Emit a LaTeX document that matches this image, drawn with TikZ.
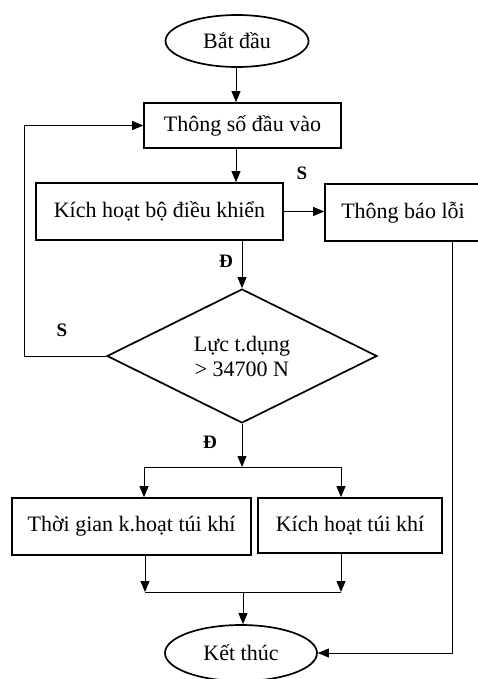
\documentclass[tikz,border=0pt]{standalone}
\usepackage{fontspec}
\setmainfont{Liberation Serif}
\usetikzlibrary{shapes.geometric,arrows.meta}

\tikzset{
  khoi/.style={draw, line width=1.7pt, rectangle, inner sep=0pt, font=\fontsize{22}{25}\selectfont},
  batdau/.style={draw, line width=1.7pt, ellipse, inner sep=0pt, font=\fontsize{22}{25}\selectfont},
  quyetdinh/.style={draw, line width=1.7pt, diamond, aspect=2, inner sep=0pt, align=center, font=\fontsize{22}{25}\selectfont},
  muiten/.style={line width=0.8pt, -{Triangle[length=11pt,width=9pt]}},
  nhan/.style={font=\fontsize{19}{21}\selectfont\bfseries}
}

\begin{document}
\begin{tikzpicture}[x=1pt, y=-1pt]
	\useasboundingbox (0,0) rectangle (478,679);
	\clip (0,0) rectangle (478,679);

	% Bắt đầu và các khối phía trên
	\node[batdau, minimum width=143pt, minimum height=52pt] (start) at (237,41) {Bắt đầu};
	\node[khoi, minimum width=197pt, minimum height=45pt] (input) at (242.5,125.5) {Thông số đầu vào};
	\node[khoi, minimum width=247pt, minimum height=57pt] (ctrl) at (159.5,211.5) {Kích hoạt bộ điều khiển};
	\node[khoi, minimum width=156pt, minimum height=57pt] (err) at (403,212.5) {Thông báo lỗi};

	% Khối điều kiện
	\node[quyetdinh, minimum width=270pt, minimum height=134pt] (dec) at (242,356) {Lực t.dụng\\> 34700 N};

	% Hai khối phía dưới
	\node[khoi, minimum width=239pt, minimum height=57pt] (tgian) at (131.5,526.5) {Thời gian k.hoạt túi khí};
	\node[khoi, minimum width=184pt, minimum height=55pt] (tuikhi) at (350,525.5) {Kích hoạt túi khí};
	\node[batdau, minimum width=152pt, minimum height=56pt] (stop) at (241,653) {Kết thúc};

	% Các điểm rẽ nhánh
	\coordinate (loop) at (24,356);
	\coordinate (splitL) at (144,467);
	\coordinate (splitR) at (341,467);
	\coordinate (split) at (242,467);
	\coordinate (mergeL) at (145,592);
	\coordinate (mergeR) at (341,592);
	\coordinate (errc) at (452,653);

	% Đường nối
	\draw[muiten] (start.south -| 236,0) -- (input.north -| 236,0);
	\draw[muiten] (input.south -| 236,0) -- (ctrl.north -| 236,0);
	\draw[muiten] (ctrl.east) -- (ctrl.east -| err.west);
	\draw[muiten] (dec.north |- ctrl.south) -- (dec.north);
	\draw[muiten] (dec.west) -- (loop) |- (input.west);
	\draw[muiten] (dec.south) -- (split);
	\draw[line width=0.8pt] (splitL) -- (splitR);
	\draw[muiten] (splitL) -- (splitL |- tgian.north);
	\draw[muiten] (splitR) -- (splitR |- tuikhi.north);
	\draw[muiten] (mergeL |- tgian.south) -- (mergeL);
	\draw[muiten] (mergeR |- tuikhi.south) -- (mergeR);
	\draw[line width=0.8pt] (mergeL) -- (mergeR);
	\draw[muiten] (243,592) -- (stop.north -| 243,0);
	\draw[muiten] (err.south -| errc) -- (errc) -- (stop.east);

	% Nhãn S / Đ
	\node[nhan] (s1) at (302,173) {S};
	\node[nhan] (d1) at (226,261) {Đ};
	\node[nhan] (s2) at (62,330) {S};
	\node[nhan] (d2) at (210,442) {Đ};
\end{tikzpicture}
\end{document}
